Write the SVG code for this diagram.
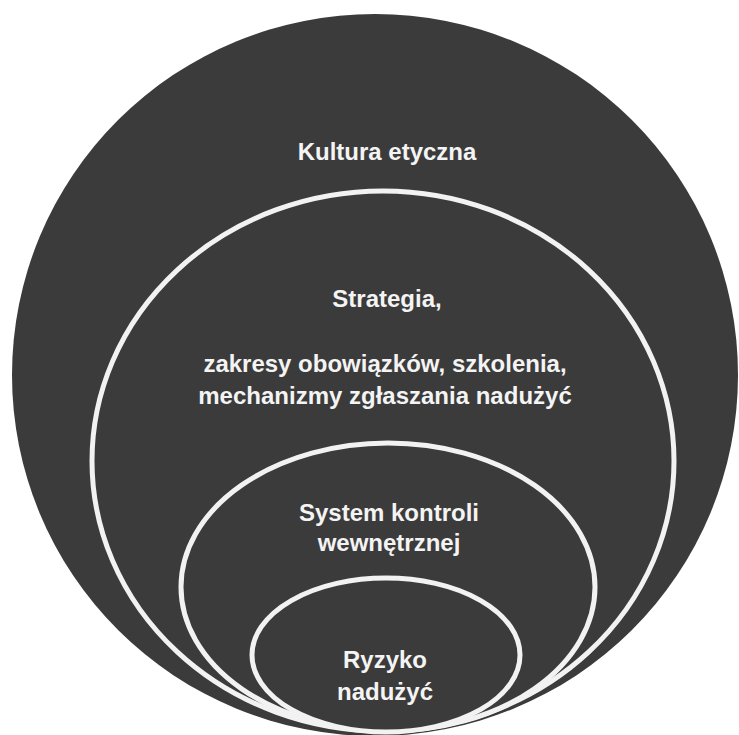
<svg xmlns="http://www.w3.org/2000/svg" width="739" height="735" viewBox="0 0 739 735">
  <style>
    .bg { fill: #ffffff; }
    .outer { fill: #3b3b3b; }
    .ring { fill: #3b3b3b; stroke: #f2f2f2; stroke-width: 5; }
    .lbl { fill: #f4f4f4; font-family: "Liberation Sans", Arial, sans-serif; font-weight: bold; font-size: 24px; text-anchor: middle; }
  </style>
  <rect class="bg" x="0" y="0" width="739" height="735"/>
  <g id="kultura-etyczna">
    <ellipse class="outer" cx="375" cy="375" rx="363" ry="361"/>
    <text class="lbl" x="387" y="160">Kultura etyczna</text>
  </g>
  <g id="strategia">
    <ellipse class="ring" cx="383" cy="461" rx="291" ry="270"/>
    <text class="lbl" x="387" y="307">Strategia,</text>
    <text class="lbl" x="385" y="372">zakresy obowiązków, szkolenia,</text>
    <text class="lbl" x="385" y="404">mechanizmy zgłaszania nadużyć</text>
  </g>
  <g id="system-kontroli">
    <ellipse class="ring" cx="388" cy="587" rx="207" ry="144"/>
    <text class="lbl" x="389" y="521">System kontroli</text>
    <text class="lbl" x="389" y="551">wewnętrznej</text>
  </g>
  <g id="ryzyko">
    <ellipse class="ring" cx="386" cy="655" rx="134" ry="77"/>
    <text class="lbl" x="385" y="668">Ryzyko</text>
    <text class="lbl" x="385" y="700">nadużyć</text>
  </g>
</svg>
